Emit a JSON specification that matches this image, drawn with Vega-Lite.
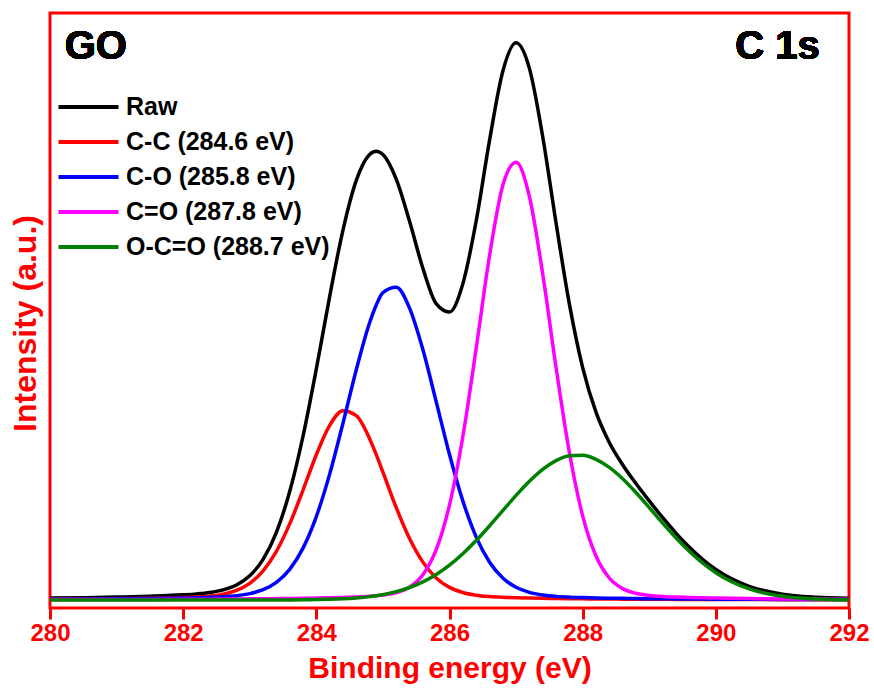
{
  "$schema": "https://vega.github.io/schema/vega-lite/v6.json",
  "width": 799,
  "height": 595,
  "autosize": {"type": "none"},
  "padding": {"left": 50, "top": 13, "right": 25, "bottom": 82},
  "background": "white",
  "config": {
    "view": {"stroke": "#ff0000", "strokeWidth": 3},
    "font": "Liberation Sans",
    "legend": {
      "orient": "none",
      "legendX": -4,
      "legendY": 81.5,
      "padding": 0,
      "symbolType": "M-3,0H3",
      "symbolSize": 400,
      "symbolStrokeWidth": 4,
      "symbolOffset": 30,
      "labelOffset": 25,
      "labelFont": "Liberation Sans",
      "labelFontWeight": "bold",
      "labelFontSize": 25,
      "labelColor": "black",
      "labelLimit": 0,
      "rowPadding": 9
    }
  },
  "data": {
    "values": [
      {"x": 280, "raw": 1.9, "cc": 0.75, "co": 0.77, "cdo": 0.38, "occo": 0},
      {"x": 280.5, "raw": 2.34, "cc": 0.96, "co": 0.94, "cdo": 0.44, "occo": 0},
      {"x": 281, "raw": 2.91, "cc": 1.23, "co": 1.17, "cdo": 0.51, "occo": 0},
      {"x": 281.5, "raw": 3.77, "cc": 1.66, "co": 1.5, "cdo": 0.61, "occo": 0},
      {"x": 282, "raw": 5.15, "cc": 2.43, "co": 1.99, "cdo": 0.73, "occo": 0},
      {"x": 282.2, "raw": 6.07, "cc": 2.99, "co": 2.28, "cdo": 0.8, "occo": 0},
      {"x": 282.4, "raw": 7.5, "cc": 3.98, "co": 2.66, "cdo": 0.86, "occo": 0},
      {"x": 282.6, "raw": 10.1, "cc": 5.89, "co": 3.27, "cdo": 0.94, "occo": 0},
      {"x": 282.8, "raw": 15.0, "cc": 9.63, "co": 4.33, "cdo": 1.03, "occo": 0.01},
      {"x": 283, "raw": 24.2, "cc": 16.7, "co": 6.35, "cdo": 1.14, "occo": 0.01},
      {"x": 283.2, "raw": 40.64, "cc": 29.08, "co": 10.27, "cdo": 1.26, "occo": 0.03},
      {"x": 283.4, "raw": 67.72, "cc": 48.62, "co": 17.65, "cdo": 1.4, "occo": 0.05},
      {"x": 283.6, "raw": 108.42, "cc": 76.1, "co": 30.65, "cdo": 1.56, "occo": 0.11},
      {"x": 283.8, "raw": 163.75, "cc": 109.91, "co": 51.87, "cdo": 1.76, "occo": 0.21},
      {"x": 284, "raw": 231.08, "cc": 145.28, "co": 83.43, "cdo": 1.99, "occo": 0.38},
      {"x": 284.2, "raw": 303.42, "cc": 174.6, "co": 125.86, "cdo": 2.27, "occo": 0.69},
      {"x": 284.4, "raw": 369.98, "cc": 189.35, "co": 176.8, "cdo": 2.62, "occo": 1.21},
      {"x": 284.6, "raw": 419.68, "cc": 184.27, "co": 230.27, "cdo": 3.08, "occo": 2.06},
      {"x": 284.8, "raw": 445.59, "cc": 161.24, "co": 277.23, "cdo": 3.74, "occo": 3.38},
      {"x": 284.9, "raw": 448.8, "cc": 145.28, "co": 295.01, "cdo": 4.22, "occo": 4.29},
      {"x": 285, "raw": 445.48, "cc": 127.81, "co": 307.38, "cdo": 4.9, "occo": 5.39},
      {"x": 285.2, "raw": 420.88, "cc": 92.44, "co": 312.77, "cdo": 7.33, "occo": 8.34},
      {"x": 285.4, "raw": 378.64, "cc": 61.4, "co": 291.85, "cdo": 12.9, "occo": 12.49},
      {"x": 285.6, "raw": 331.71, "cc": 37.86, "co": 250.42, "cdo": 25.28, "occo": 18.15},
      {"x": 285.8, "raw": 296.35, "cc": 22.09, "co": 198.34, "cdo": 50.34, "occo": 25.58},
      {"x": 286, "raw": 287.98, "cc": 12.63, "co": 145.47, "cdo": 94.94, "occo": 34.94},
      {"x": 286.2, "raw": 316.13, "cc": 7.45, "co": 99.16, "cdo": 163.24, "occo": 46.28},
      {"x": 286.4, "raw": 378.75, "cc": 4.77, "co": 63.17, "cdo": 251.38, "occo": 59.43},
      {"x": 286.6, "raw": 459.12, "cc": 3.41, "co": 38.01, "cdo": 343.7, "occo": 74},
      {"x": 286.8, "raw": 528.52, "cc": 2.67, "co": 22.03, "cdo": 414.47, "occo": 89.35},
      {"x": 287, "raw": 557.2, "cc": 2.22, "co": 12.7, "cdo": 437.7, "occo": 104.58},
      {"x": 287.2, "raw": 531.64, "cc": 1.91, "co": 7.62, "cdo": 403.41, "occo": 118.7},
      {"x": 287.4, "raw": 463.31, "cc": 1.66, "co": 4.98, "cdo": 326.04, "occo": 130.63},
      {"x": 287.6, "raw": 377.22, "cc": 1.47, "co": 3.62, "cdo": 232.75, "occo": 139.38},
      {"x": 287.8, "raw": 296.09, "cc": 1.31, "co": 2.87, "cdo": 147.71, "occo": 144.2},
      {"x": 288, "raw": 232.39, "cc": 1.17, "co": 2.41, "cdo": 84.17, "occo": 144.64},
      {"x": 288.2, "raw": 187.82, "cc": 1.06, "co": 2.1, "cdo": 43.98, "occo": 140.68},
      {"x": 288.4, "raw": 157.48, "cc": 0.96, "co": 1.85, "cdo": 22.01, "occo": 132.66},
      {"x": 288.6, "raw": 135.21, "cc": 0.87, "co": 1.65, "cdo": 11.39, "occo": 121.3},
      {"x": 288.8, "raw": 116.48, "cc": 0.79, "co": 1.48, "cdo": 6.68, "occo": 107.53},
      {"x": 289, "raw": 99.1, "cc": 0.73, "co": 1.34, "cdo": 4.6, "occo": 92.43},
      {"x": 289.2, "raw": 82.51, "cc": 0.67, "co": 1.22, "cdo": 3.58, "occo": 77.04},
      {"x": 289.4, "raw": 66.95, "cc": 0.62, "co": 1.11, "cdo": 2.97, "occo": 62.25},
      {"x": 289.6, "raw": 52.9, "cc": 0.57, "co": 1.01, "cdo": 2.54, "occo": 48.78},
      {"x": 289.8, "raw": 40.72, "cc": 0.53, "co": 0.93, "cdo": 2.21, "occo": 37.05},
      {"x": 290, "raw": 30.58, "cc": 0.49, "co": 0.86, "cdo": 1.94, "occo": 27.29},
      {"x": 290.5, "raw": 13.67, "cc": 0.42, "co": 0.71, "cdo": 1.44, "occo": 11.1},
      {"x": 291, "raw": 5.8, "cc": 0.36, "co": 0.6, "cdo": 1.12, "occo": 3.72},
      {"x": 291.5, "raw": 2.74, "cc": 0.31, "co": 0.51, "cdo": 0.89, "occo": 1.03},
      {"x": 292, "raw": 1.66, "cc": 0.27, "co": 0.44, "cdo": 0.72, "occo": 0.23}
    ]
  },
  "layer": [
    {
      "transform": [
        {"fold": ["raw", "cc", "co", "cdo", "occo"], "as": ["series", "intensity"]}
      ],
      "mark": {"type": "line", "strokeWidth": 3.5, "interpolate": "monotone", "clip": true},
      "encoding": {
        "x": {
          "field": "x",
          "type": "quantitative",
          "scale": {"domain": [280, 292], "nice": false, "zero": false},
          "axis": {
            "title": "Binding energy (eV)",
            "values": [280, 282, 284, 286, 288, 290, 292],
            "format": "d",
            "grid": false,
            "domain": false,
            "ticks": true,
            "tickColor": "#ff0000",
            "tickWidth": 3,
            "tickSize": 11,
            "labelColor": "#ff0000",
            "labelFont": "Liberation Sans",
            "labelFontWeight": "bold",
            "labelFontSize": 24,
            "labelPadding": 2,
            "labelFlush": false,
            "labelOverlap": false,
            "titleColor": "#ff0000",
            "titleFont": "Liberation Sans",
            "titleFontWeight": "bold",
            "titleFontSize": 30,
            "titlePadding": 8
          }
        },
        "y": {
          "field": "intensity",
          "type": "quantitative",
          "scale": {"domain": [-8, 587], "nice": false, "zero": false},
          "axis": {
            "title": "Intensity (a.u.)",
            "grid": false,
            "domain": false,
            "ticks": false,
            "labels": false,
            "titleColor": "#ff0000",
            "titleFont": "Liberation Sans",
            "titleFontWeight": "bold",
            "titleFontSize": 32,
            "titlePadding": 8,
            "titleY": 310
          }
        },
        "color": {
          "field": "series",
          "type": "nominal",
          "scale": {
            "domain": ["raw", "cc", "co", "cdo", "occo"],
            "range": ["#000000", "#ff0000", "#0000ff", "#ff00ff", "#008000"]
          },
          "legend": {
            "title": null,
            "labelExpr": "{'raw': 'Raw', 'cc': 'C-C (284.6 eV)', 'co': 'C-O (285.8 eV)', 'cdo': 'C=O (287.8 eV)', 'occo': 'O-C=O (288.7 eV)'}[datum.label]"
          }
        }
      }
    },
    {
      "mark": {"type": "text", "align": "left", "baseline": "middle", "font": "Liberation Sans", "fontWeight": "bold", "fontSize": 40, "color": "black"},
      "encoding": {
        "x": {"datum": 280.22, "type": "quantitative"},
        "y": {"datum": 553, "type": "quantitative"},
        "text": {"value": "GO"}
      }
    },
    {
      "mark": {"type": "text", "align": "right", "baseline": "middle", "font": "Liberation Sans", "fontWeight": "bold", "fontSize": 40, "color": "black"},
      "encoding": {
        "x": {"datum": 291.56, "type": "quantitative"},
        "y": {"datum": 553, "type": "quantitative"},
        "text": {"value": "C 1s"}
      }
    }
  ]
}
